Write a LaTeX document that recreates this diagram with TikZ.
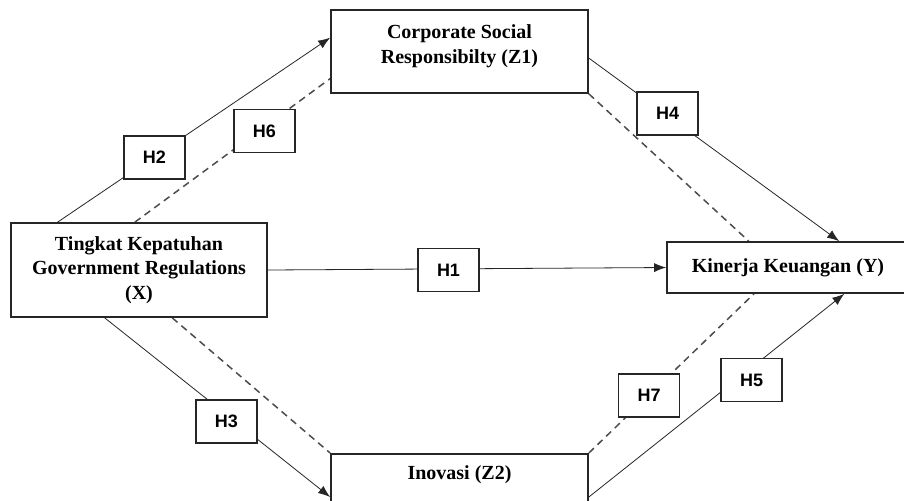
\documentclass[tikz,border=0pt]{standalone}
\usepackage{fontspec}
\setmainfont{Liberation Serif}
\newfontfamily\hfont{Liberation Sans}
\usetikzlibrary{calc,backgrounds,arrows.meta}
\tikzset{
  varbox/.style={draw=black!85,line width=0.85pt,fill=white,align=center,
    font=\bfseries\fontsize{10}{12.25}\selectfont},
  hypbox/.style={draw=black!85,line width=0.85pt,fill=white,inner sep=0pt,
    minimum width=30.5pt,minimum height=21.5pt,font=\hfont\bfseries\fontsize{9}{10}\selectfont},
  indirect/.style={draw=black!70,line width=0.75pt,dash pattern=on 3.5pt off 2.5pt}
}
\begin{document}
\begin{tikzpicture}[x=0.5pt,y=-0.5pt,line width=0.85pt,>={Latex[length=6pt,width=4.5pt]}]
  \clip (0,0) rectangle (904,500);
  % variables
  \node[varbox,minimum width=128pt,minimum height=47pt] (x) at (139,270) {Tingkat Kepatuhan\\Government Regulations\\(X)};
  \node[varbox,minimum width=128.5pt,minimum height=41.5pt,text depth=7.5pt] (z1) at (459.5,51.5) {Corporate Social\\Responsibilty (Z1)};
  \node[varbox,minimum width=121pt,minimum height=25.5pt] (y) at (788,267.5) {Kinerja Keuangan (Y)};
  \node[varbox,anchor=north,minimum width=128.5pt,inner ysep=6pt,text depth=40pt] (z2) at (459.5,453) {Inovasi (Z2)};
  % hypotheses
  \node[hypbox] (h1) at (448.5,270) {H1};
  \node[hypbox] (h2) at (154.5,157.5) {H2};
  \node[hypbox] (h3) at (226.5,421.5) {H3};
  \node[hypbox] (h4) at (667.5,113.5) {H4};
  \node[hypbox] (h5) at (751.5,380) {H5};
  \node[hypbox] (h6) at (264.5,131) {H6};
  \node[hypbox] (h7) at (649,395.5) {H7};
  \begin{scope}[on background layer]
    \fill[white] (0,0) rectangle (904,500);
    \draw[->,black!85] ($(x.north west)!0.184!(x.north east)$) -- ($(z1.north west)!0.337!(z1.south west)$);
    \draw[indirect] ($(x.north west)!0.484!(x.north east)$) -- ($(z1.north west)!0.82!(z1.south west)$);
    \draw[->,black!85] (x.east) -- (y.west);
    \draw[->,black!85] ($(x.south west)!0.367!(x.south east)$) -- ([yshift=-22pt]z2.north west);
    \draw[indirect] ($(x.south west)!0.629!(x.south east)$) -- (z2.north west);
    \draw[->,black!85] ($(z1.north east)!0.578!(z1.south east)$) -- ($(y.north west)!0.71!(y.north east)$);
    \draw[indirect] (z1.south east) -- ($(y.north west)!0.339!(y.north east)$);
    \draw[->,black!85] ([yshift=-22pt]z2.north east) -- ($(y.south west)!0.731!(y.south east)$);
    \draw[indirect] (z2.north east) -- ($(y.south west)!0.36!(y.south east)$);
  \end{scope}
\end{tikzpicture}
\end{document}
